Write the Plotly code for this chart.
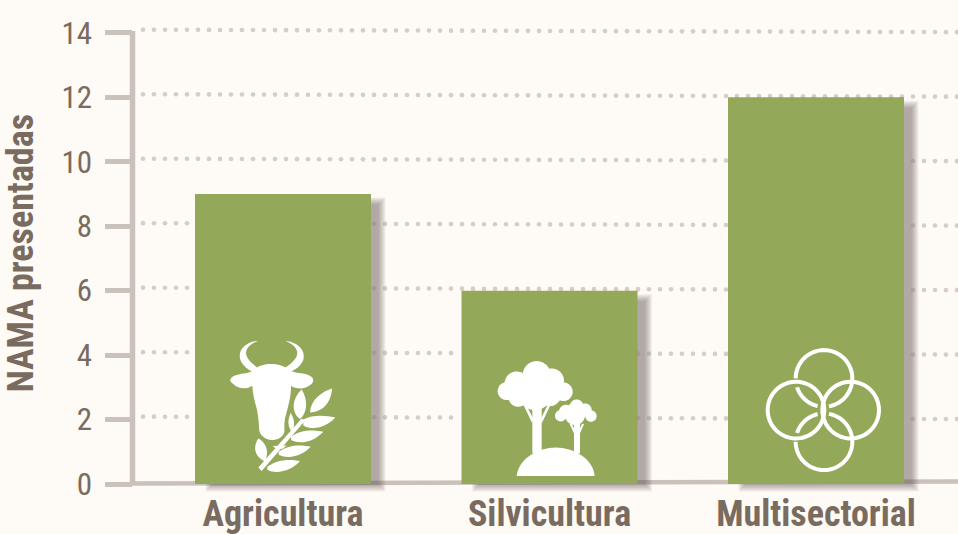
import re
import numpy as np
import plotly.graph_objects as go

categories = ["Agricultura", "Silvicultura", "Multisectorial"]
values = [9, 6, 12]
y_ticks = [0, 2, 4, 6, 8, 10, 12, 14]
y_title = "NAMA presentadas"

BG = "#fefaf5"
BAR = "#94a85a"
AXIS = "#c9c1ba"
TEXT = "#7a6b60"
FONT = "Roboto Condensed"

W, H = 958, 534
PX_X = 266.5       # pixels per category
PX_Y = 32.2        # pixels per value unit
X0_PX, Y0_PX = 283, 484
to_x = lambda px: (px - X0_PX) / PX_X
L_PX = 105
BAR_W = 176 / PX_X

fig = go.Figure()

# dotted guide lines (slightly tilted, as printed), hidden behind the bars
dot_x = np.arange(to_x(143), to_x(960), 11 / PX_X)
for v in y_ticks[1:]:
    dot_y = v + np.interp(dot_x, [to_x(132), to_x(958)], [3 / PX_Y, 0.5 / PX_Y])
    keep = [not any(abs(x - i) < BAR_W / 2 and yy < values[i] for i in range(len(values)))
            for x, yy in zip(dot_x, dot_y)]
    fig.add_trace(go.Scatter(
        x=dot_x[keep], y=dot_y[keep], mode="markers", hoverinfo="skip", showlegend=False,
        marker=dict(size=4.6, color="rgba(150,132,120,0.38)", line=dict(width=0)),
    ))

fig.add_trace(go.Bar(x=list(range(len(categories))), y=values, width=BAR_W,
                     marker=dict(color=BAR, line=dict(width=0)), showlegend=False))

shapes = []

# axis lines
shapes.append(dict(type="line", xref="x", yref="y", layer="below",
                   x0=to_x(132.5), x1=to_x(132.5), y0=0, y1=14.05,
                   line=dict(color=AXIS, width=5.5)))
shapes.append(dict(type="line", xref="x", yref="y", layer="below",
                   x0=to_x(132), x1=to_x(960), y0=0.02, y1=0.08,
                   line=dict(color=AXIS, width=4.5)))

# soft drop shadow of each bar, built up from translucent rectangles
for i, v in enumerate(values):
    for k in np.linspace(-3.5, 3.5, 8):
        shapes.append(dict(
            type="rect", xref="x", yref="y", layer="below", line=dict(width=0),
            fillcolor="rgba(90,80,80,0.075)",
            x0=i - BAR_W / 2 + (14 - k) / PX_X, x1=i + BAR_W / 2 + (11 + k) / PX_X,
            y0=-(4 + k) / PX_Y, y1=v - (7 - k) / PX_Y,
        ))


def icon_path(d, ox, oy, cx):
    """Map an icon path drawn in 3x picture-crop coordinates to pixels from the bar's foot."""
    toks = re.findall(r"[A-Za-z]|-?\d+\.?\d*", d)
    out, is_x = [], True
    for t in toks:
        if t.isalpha():
            out.append(t)
            is_x = True
        else:
            val = float(t)
            if is_x:
                out.append(f"{ox + val / 3 - cx:.2f}")
            else:
                out.append(f"{Y0_PX - (oy + val / 3):.2f}")
            is_x = not is_x
    return " ".join(out)


def add_icon(i, d, ox, oy, cx, filled=True, width=0):
    s = dict(type="path", xref="x", yref="y", xsizemode="pixel", ysizemode="pixel",
             xanchor=i, yanchor=0, path=icon_path(d, ox, oy, cx), layer="above")
    if filled:
        s.update(fillcolor="white", line=dict(width=0))
    else:
        s.update(fillcolor="rgba(0,0,0,0)", line=dict(color="white", width=width))
    shapes.append(s)


def arc(cx, cy, r, a0, a1, close=False):
    a = np.radians(np.linspace(a0, a1, 60))
    pts = [f"{cx + r * np.cos(t):.1f} {cy - r * np.sin(t):.1f}" for t in a]
    return "M" + " L".join(pts) + (" Z" if close else "")


# cow and wheat
cow = [
    "M205 62 C165 66 145 90 150 115 C155 135 175 150 195 158 L207 146 C185 130 168 115 168 98 C170 80 185 70 205 62 Z",
    "M285 62 C325 66 345 90 341 115 C335 138 315 150 295 157 L283 145 C305 130 322 115 322 98 C320 80 305 70 285 62 Z",
    "M198 145 C215 128 270 125 298 150 C310 160 340 158 358 166 C372 172 374 184 362 194 C345 208 318 208 303 197 "
    "C304 225 296 255 285 295 C282 310 284 325 283 335 C280 352 262 360 245 360 C225 358 208 345 207 325 "
    "C207 305 205 290 200 265 C193 240 188 220 187 197 C172 208 145 208 130 192 C116 182 118 174 135 166 "
    "C155 158 182 162 198 145 Z",
]
wheat = [
    "M205 442 L335 295 L345 302 L215 453 Z",
    "M360 277 C362 238 395 215 426 205 C424 245 400 275 360 277 Z",
    "M330 297 C302 275 306 235 335 208 C355 240 352 278 330 297 Z",
    "M340 298 C370 283 405 286 436 292 C412 318 372 334 340 316 Z",
    "M303 350 C330 328 370 328 400 335 C375 362 335 376 303 360 Z",
    "M266 395 C295 373 335 373 362 380 C340 404 300 420 266 404 Z",
    "M232 440 C260 418 300 416 330 423 C305 452 260 464 232 449 Z",
    "M225 424 C193 410 188 380 205 355 C232 370 237 400 225 424 Z",
    "M305 335 C290 315 295 295 302 278 C315 300 315 320 305 335 Z",
    "M248 378 L290 376 L278 386 L258 386 Z",
]
for d in cow + wheat:
    add_icon(0, d, 190, 320, X0_PX)

# trees
cx1 = X0_PX + PX_X
tree_discs = [(230, 105, 42), (170, 130, 36), (275, 122, 37), (140, 153, 27), (310, 155, 28),
              (175, 170, 30), (270, 165, 33), (225, 160, 50),
              (350, 198, 20), (318, 215, 21), (375, 210, 20), (302, 227, 17), (393, 228, 17),
              (345, 225, 30), (345, 208, 22)]
for c in tree_discs:
    add_icon(1, arc(*c, 0, 360, close=True), 460, 340, cx1)
tree_parts = [
    "M217 200 L245 200 L245 340 L217 340 Z",
    "M192 198 L200 196 L219 235 L217 250 Z",
    "M270 198 L262 196 L243 235 L245 250 Z",
    "M342 245 L360 245 L360 340 L342 340 Z",
    "M329 252 L335 251 L344 268 L342 280 Z",
    "M372 252 L366 251 L358 268 L360 280 Z",
    "M170 408 C175 355 235 322 287 322 C340 322 400 355 404 408 Z",
]
for d in tree_parts:
    add_icon(1, d, 460, 340, cx1)

# interlaced rings
cx2 = X0_PX + 2 * PX_X
rings = [
    arc(228, 240, 85, 0, 360, close=True),
    arc(392, 240, 85, 0, 360, close=True),
    arc(312, 145, 85, 180, -80),
    arc(312, 145, 85, -103, -162),
    arc(312, 335, 85, 180, 440),
    arc(312, 335, 85, 103, 162),
]
for d in rings:
    add_icon(2, d, 720, 330, cx2, filled=False, width=4)

fig.add_annotation(
    text=f"<b>{y_title}</b>", textangle=-90, showarrow=False,
    xref="paper", yref="paper",
    x=(21 - L_PX) / (W - L_PX), y=(497 - 253.5) / (497 - 23.3),
    xanchor="center", yanchor="middle",
    font=dict(size=36, family=FONT, color=TEXT),
)

fig.update_layout(
    width=W, height=H,
    autosize=False,
    margin=dict(l=L_PX, r=0, t=23.3, b=37, pad=0, autoexpand=False),
    paper_bgcolor=BG, plot_bgcolor=BG,
    showlegend=False,
    barmode="overlay",
    font=dict(family=FONT, color=TEXT),
    shapes=shapes,
    xaxis=dict(
        range=[to_x(L_PX), to_x(W)], tickmode="array", automargin=False,
        tickvals=list(range(len(categories))), ticktext=[f"<b>{c}</b>" for c in categories],
        tickfont=dict(size=36, family=FONT, color=TEXT),
        ticklabelstandoff=-8,
        showgrid=False, zeroline=False, showline=False, ticks="",
    ),
    yaxis=dict(
        range=[-0.4, 14.3], tickmode="array", tickvals=y_ticks, automargin=False,
        tickfont=dict(size=31, family=FONT, color=TEXT),
        ticks="inside", ticklen=27, tickwidth=5, tickcolor=AXIS,
        ticklabelstandoff=12,
        showgrid=False, zeroline=False, showline=False,
    ),
)

fig.write_html("out.html", config={"displayModeBar": False},
               post_script="document.documentElement.style.background='%s';document.body.style.margin='0';document.body.style.background='%s';document.body.style.overflow='hidden';" % (BG, BG))
